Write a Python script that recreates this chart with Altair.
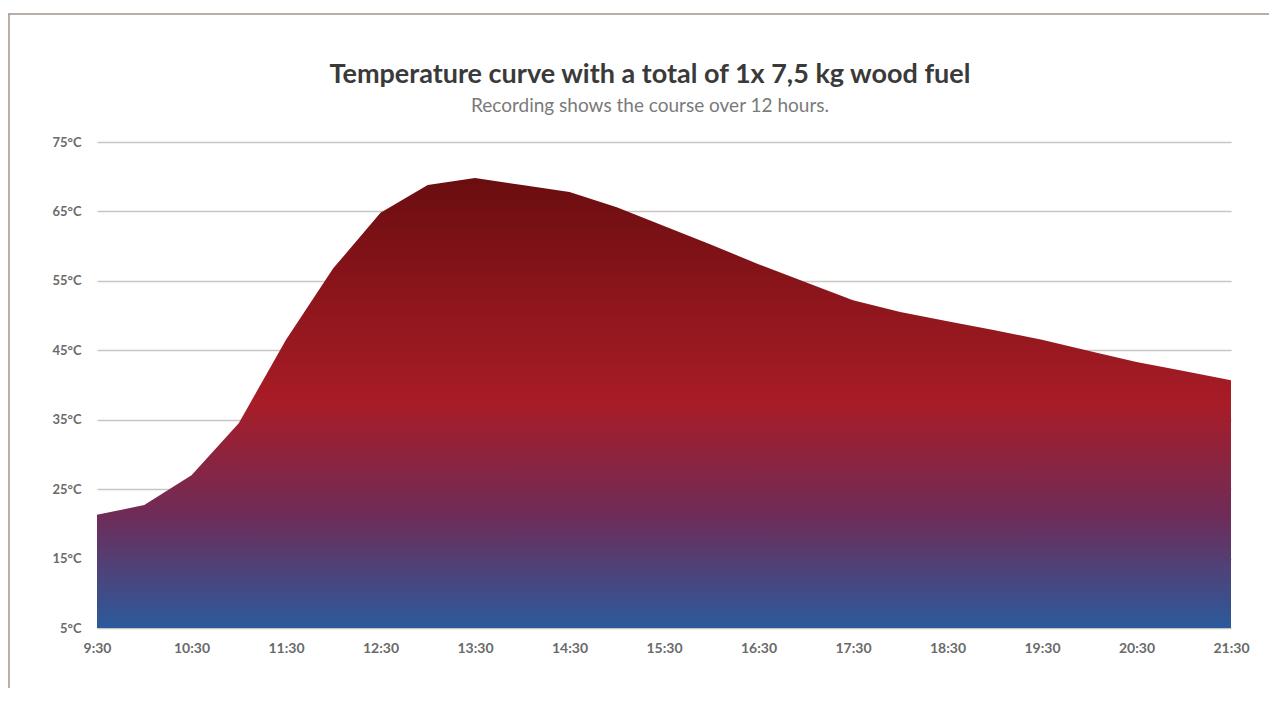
import altair as alt
import pandas as pd

# time in hours (9.5 = 9:30), temperature in °C
hours = [9.5, 10.0, 10.5, 11.0, 11.5, 12.0, 12.5, 13.0, 13.5, 14.0, 14.5, 15.0,
         15.5, 16.0, 16.5, 17.0, 17.5, 18.0, 18.5, 19.0, 19.5, 20.0, 20.5, 21.0, 21.5]
temps = [21.3, 22.7, 27.0, 34.5, 46.5, 56.8, 64.8, 68.8, 69.8, 68.8, 67.8, 65.6,
         62.9, 60.2, 57.4, 54.8, 52.2, 50.5, 49.2, 47.9, 46.5, 44.9, 43.3, 42.0, 40.7]

x_tick_values = [9.5, 10.5, 11.5, 12.5, 13.5, 14.5, 15.5, 16.5, 17.5, 18.5, 19.5, 20.5, 21.5]
x_tick_labels = ["9:30", "10:30", "11:30", "12:30", "13:30", "14:30", "15:30",
                 "16:30", "17:30", "18:30", "19:30", "20:30", "21:30"]
y_tick_values = [5, 15, 25, 35, 45, 55, 65, 75]
y_tick_labels = ["5°C", "15°C", "25°C", "35°C", "45°C", "55°C", "65°C", "75°C"]

title_text = "Temperature curve with a total of 1x 7,5 kg wood fuel"
subtitle_text = "Recording shows the course over 12 hours."

df = pd.DataFrame({"hour": hours, "temp": temps})
one = pd.DataFrame({"k": [0]})

x_label_expr = "[" + ",".join("'%s'" % s for s in x_tick_labels) + "][round((datum.value - 9.5))]"
y_label_expr = "[" + ",".join("'%s'" % s for s in y_tick_labels) + "][round((datum.value - 5) / 10)]"

W, H = 1134, 486

gradient = alt.Gradient(
    gradient="linear",
    x1=0, x2=0, y1=0, y2=1,
    stops=[
        alt.GradientStop(color="#6a0d10", offset=0.0),
        alt.GradientStop(color="#8e161c", offset=0.28),
        alt.GradientStop(color="#a81c27", offset=0.5),
        alt.GradientStop(color="#6e2c58", offset=0.75),
        alt.GradientStop(color="#2c5a9c", offset=1.0),
    ],
)

x_enc = alt.X("hour:Q",
              scale=alt.Scale(domain=[9.5, 21.5], nice=False, zero=False),
              axis=alt.Axis(values=x_tick_values, labelExpr=x_label_expr, title=None,
                            grid=False, domain=False, ticks=False, labelPadding=13,
                            labelFlush=False, labelOverlap=False,
                            labelFontSize=14, labelColor="#6a6a6a", labelFont="Lato",
                            labelFontWeight="bold"))
y_enc = alt.Y("temp:Q",
              scale=alt.Scale(domain=[5, 75], nice=False, zero=False),
              axis=alt.Axis(values=y_tick_values, labelExpr=y_label_expr, title=None,
                            grid=True, gridColor="#c9c5c1", gridWidth=1.6,
                            domain=False, ticks=False, labelPadding=16,
                            labelFlush=False,
                            labelFontSize=13, labelColor="#6a6a6a", labelFont="Lato",
                            labelFontWeight="bold"))

area = alt.Chart(df).mark_area(color=gradient, interpolate="linear").encode(
    x=x_enc, y=y_enc, y2=alt.datum(5)
)

frame_color = "#a3958b"
left_line = alt.Chart(one).mark_rule(color=frame_color, strokeWidth=1.5).encode(
    x=alt.value(-88), y=alt.value(-128), y2=alt.value(H + 60)
)
top_line = alt.Chart(one).mark_rule(color=frame_color, strokeWidth=1.5).encode(
    x=alt.value(-94), x2=alt.value(W + 40), y=alt.value(-128)
)

title = alt.Chart(one).mark_text(
    text=title_text, font="Lato", fontSize=27, fontWeight="bold", color="#3a3a3a",
    align="center", baseline="middle"
).encode(x=alt.value(553), y=alt.value(-67))
subtitle = alt.Chart(one).mark_text(
    text=subtitle_text, font="Lato", fontSize=19, color="#7a7a7a",
    align="center", baseline="middle"
).encode(x=alt.value(553), y=alt.value(-36))

chart = alt.layer(area, left_line, top_line, title, subtitle).properties(
    width=W, height=H,
    autosize=alt.AutoSizeParams(type="none"),
    padding={"left": 89, "top": 134, "right": 38, "bottom": 60},
).configure(background="white").configure_view(stroke=None)

chart.save("out.html", embed_options={"renderer": "svg", "actions": False})
